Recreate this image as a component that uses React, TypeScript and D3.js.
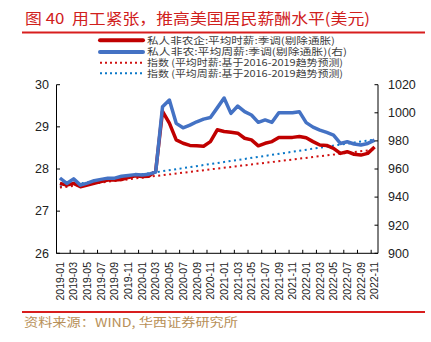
import React from "react";
import * as d3 from "d3";

const months: string[] = [];
for (let y = 2019; y <= 2022; y++) for (let m = 1; m <= 12; m++) if (!(y === 2022 && m > 11)) months.push(`${y}-${String(m).padStart(2, "0")}`);

const hourly = [
  27.66, 27.62, 27.66, 27.58, 27.62, 27.66, 27.7, 27.74, 27.74, 27.75, 27.8, 27.84,
  27.82, 27.83, 27.95, 29.37, 29.09, 28.69, 28.61, 28.56, 28.55, 28.54, 28.65, 28.93,
  28.89, 28.87, 28.85, 28.73, 28.69, 28.55, 28.61, 28.65, 28.75, 28.75, 28.75, 28.77,
  28.74, 28.65, 28.57, 28.56, 28.49, 28.37, 28.41, 28.35, 28.33, 28.37, 28.52,
];

const weekly = [
  953.6, 949.7, 953.0, 948.5, 950.0, 951.7, 952.6, 953.5, 953.5, 954.8, 955.4, 956.0,
  955.8, 956.3, 957.8, 1004.3, 1009.1, 992.5, 989.3, 991.2, 993.6, 995.5, 996.6, 1003.5,
  1010.5, 999.6, 1004.8, 1000.8, 998.4, 993.2, 994.9, 993.2, 1000.1, 1000.1, 1000.1, 1000.8,
  993.0, 989.8, 987.7, 986.0, 984.1, 978.2, 979.4, 977.8, 977.1, 978.2, 980.6,
];

const hourlyTrend = [27.56, 28.46]; // first and last month
const weeklyTrend = [947.5, 981.0];

const leftTicks = [26, 27, 28, 29, 30];
const rightTicks = [900, 920, 940, 960, 980, 1000, 1020];

const legendLabels = [
  "私人非农企:平均时薪:季调(剔除通胀)",
  "私人非农:平均周薪:季调(剔除通胀)(右)",
  "指数 (平均时薪:基于2016-2019趋势预测)",
  "指数 (平均周薪:基于2016-2019趋势预测)",
];

const RED = "#c00000";
const BLUE = "#4472c4";
const DRED = "#d01010";
const DBLUE = "#0a78c8";

export default function App() {
  const W = 431, H = 342;
  const left = 56.5, right = 378, top = 84.7, bottom = 253.3;

  const x = d3.scaleBand<string>().domain(months).range([left, right]).padding(0);
  const cx = (m: string) => (x(m) as number) + x.bandwidth() / 2;
  const yL = d3.scaleLinear().domain([26, 30]).range([bottom, top]);
  const yR = d3.scaleLinear().domain([900, 1020]).range([bottom, top]);

  const lineL = d3.line<number>().x((_, i) => cx(months[i])).y((d) => yL(d));
  const lineR = d3.line<number>().x((_, i) => cx(months[i])).y((d) => yR(d));
  const first = months[0], last = months[months.length - 1];

  const tickMonths = months.filter((_, i) => i % 2 === 0);
  const cjk = "'Noto Sans CJK SC', sans-serif";

  return (
    <svg width={W} height={H} style={{ position: "absolute", left: 0, top: 0, background: "#fff" }}>
      <text x={25} y={23.5} fontFamily={cjk} fontSize={15} fill="#d0201c" textLength={345} lengthAdjust="spacingAndGlyphs" style={{ whiteSpace: "pre" }}>
        {"图 40  用工紧张，推高美国居民薪酬水平(美元)"}
      </text>
      <line x1={22} x2={425} y1={32.5} y2={32.5} stroke="#d81e1e" strokeWidth={2} />

      {/* legend */}
      {legendLabels.map((t, i) => {
        const ly = [40.3, 52, 62.7, 73.3][i];
        const col = [RED, BLUE, DRED, DBLUE][i];
        return (
          <g key={i}>
            {i < 2 ? (
              <line x1={100} x2={143} y1={ly} y2={ly} stroke={col} strokeWidth={4} strokeLinecap="round" />
            ) : (
              <line x1={100} x2={143} y1={ly} y2={ly} stroke={col} strokeWidth={2} strokeDasharray="2,3" />
            )}
            <text x={147} y={ly + 3.4} fontFamily={cjk} fontSize={9.5} fill="#404040" style={{ whiteSpace: "pre" }}
              textLength={[188, 200, 196, 196][i]} lengthAdjust="spacingAndGlyphs">{t}</text>
          </g>
        );
      })}

      {/* trend lines */}
      <line x1={cx(first)} x2={cx(last)} y1={yR(weeklyTrend[0])} y2={yR(weeklyTrend[1])} stroke={DBLUE} strokeWidth={2} strokeDasharray="2,3.5" />
      <line x1={cx(first)} x2={cx(last)} y1={yL(hourlyTrend[0])} y2={yL(hourlyTrend[1])} stroke={DRED} strokeWidth={2} strokeDasharray="2,3.5" />

      <path d={lineL(hourly) || ""} fill="none" stroke={RED} strokeWidth={3.5} strokeLinejoin="round" />
      <path d={lineR(weekly) || ""} fill="none" stroke={BLUE} strokeWidth={3.5} strokeLinejoin="round" />

      {/* axes */}
      <g stroke="#000" strokeWidth={1}>
        <line x1={left} x2={left} y1={top} y2={bottom} />
        <line x1={right} x2={right} y1={top} y2={bottom} />
        <line x1={left} x2={right} y1={bottom} y2={bottom} />
        {leftTicks.map((t) => (
          <line key={t} x1={left} x2={left + 3.5} y1={yL(t)} y2={yL(t)} />
        ))}
        {rightTicks.map((t) => (
          <line key={t} x1={right - 3.5} x2={right} y1={yR(t)} y2={yR(t)} />
        ))}
        {tickMonths.map((m) => (
          <line key={m} x1={x(m) as number} x2={x(m) as number} y1={bottom} y2={bottom - 3.5} />
        ))}
      </g>
      {leftTicks.map((t) => (
        <text key={t} x={49} y={yL(t) + 4.3} textAnchor="end" fontFamily="Arial, 'Liberation Sans', sans-serif" fontSize={12.5} fill="#222">{t}</text>
      ))}
      {rightTicks.map((t) => (
        <text key={t} x={388} y={yR(t) + 4.3} textAnchor="start" fontFamily="Arial, 'Liberation Sans', sans-serif" fontSize={12.5} fill="#222">{t}</text>
      ))}
      {tickMonths.map((m) => (
        <text key={m} transform={`translate(${cx(m) + 3.8},262) rotate(-90)`} textAnchor="end"
          fontFamily="Arial, 'Liberation Sans', sans-serif" fontSize={10.5} fill="#222">{m}</text>
      ))}

      <line x1={22} x2={425} y1={312} y2={312} stroke="#d81e1e" strokeWidth={2} />
      <text x={24} y={327} fontFamily={cjk} fontSize={12} fill="#b89058" textLength={214} lengthAdjust="spacingAndGlyphs">
        资料来源：WIND, 华西证券研究所
      </text>
    </svg>
  );
}
